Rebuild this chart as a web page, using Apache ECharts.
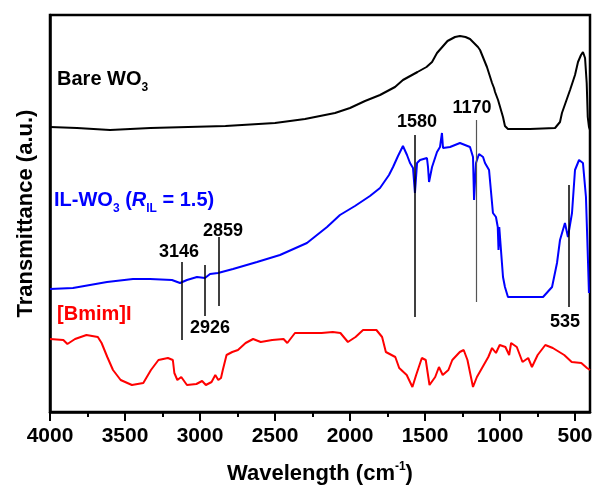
<!DOCTYPE html>
<html><head><meta charset="utf-8">
<script src="https://cdn.jsdelivr.net/npm/echarts@6/dist/echarts.min.js"></script>
<style>html,body{margin:0;padding:0;background:#fff}#c{width:595px;height:487px}</style>
</head><body><div id="c"></div>
<script>
// Wavenumber (cm-1) tick labels
const xTickValues = [4000, 3500, 3000, 2500, 2000, 1500, 1000, 500];
const xMinorTickValues = [3750, 3250, 2750, 2250, 1750, 1250, 750];

// Spectra: [wavenumber, transmittance (a.u.)]
const bareWO3 = [[4000,285],[3820,284],[3600,282],[3330,284],[2830,286],[2500,289],[2300,293],[2100,299],[2000,304],[1900,311],[1800,317],[1700,325],[1647,332],[1550,340],[1490,345],[1453,350],[1420,359],[1350,371],[1300,375],[1267,376],[1230,375],[1200,373],[1147,365],[1133,362],[1087,345],[1053,329],[1040,324],[1033,320],[1013,312],[980,295],[967,286],[947,283],[800,283],[633,284],[600,290],[587,299],[533,322],[500,337],[480,350],[460,357],[447,360],[444,359],[433,354],[422,329],[415,295],[407,285],[400,282]];
const ilWO3 = [[4000,123],[3847,124],[3620,130],[3447,133],[3333,133],[3187,132],[3133,129],[3087,132],[3020,135],[2967,134],[2933,138],[2880,139],[2780,143],[2620,150],[2467,157],[2287,169],[2153,185],[2067,197],[1967,206],[1867,216],[1800,224],[1740,237],[1713,245],[1680,256],[1647,266],[1620,257],[1600,249],[1580,244],[1567,219],[1553,249],[1533,252],[1487,254],[1480,245],[1473,230],[1453,245],[1420,260],[1400,265],[1387,279],[1380,264],[1333,265],[1267,269],[1200,265],[1180,255],[1173,212],[1160,249],[1140,258],[1113,255],[1100,249],[1073,242],[1047,199],[1027,195],[1015,185],[1010,162],[1005,185],[987,149],[980,135],[967,125],[947,115],[713,115],[653,125],[620,149],[600,172],[567,189],[547,175],[520,199],[500,242],[473,252],[447,249],[427,215],[413,149],[407,119]];
const bmimI = [[4000,73],[3911,72],[3884,68],[3833,73],[3757,77],[3681,75],[3656,69],[3618,55],[3580,42],[3529,32],[3454,27],[3378,29],[3327,42],[3277,52],[3214,54],[3181,52],[3171,39],[3151,32],[3125,35],[3087,27],[3024,28],[2986,31],[2961,27],[2923,30],[2898,37],[2878,32],[2860,34],[2848,42],[2823,57],[2785,60],[2747,62],[2696,69],[2646,73],[2595,70],[2519,72],[2443,73],[2418,69],[2367,79],[2266,79],[2190,79],[2115,80],[2064,79],[2014,70],[1963,75],[1913,82],[1824,82],[1786,75],[1761,60],[1698,55],[1672,44],[1622,37],[1584,25],[1559,37],[1521,54],[1495,52],[1470,27],[1432,35],[1407,45],[1382,37],[1344,42],[1318,52],[1268,60],[1242,62],[1217,52],[1180,25],[1154,35],[1116,45],[1078,55],[1053,64],[1027,59],[1002,67],[964,65],[939,57],[926,69],[888,65],[850,50],[812,54],[787,45],[749,57],[698,67],[648,64],[572,57],[522,50],[458,49],[420,44],[400,42]];

// Peak annotations
const peakNames = ['3146', '2926', '2859', '1580', '1170', '535'];
const peakLineX = [3120, 2967, 2873, 1567, 1160, 540];
const peakLineTop = [150, 147, 175, 277, 292, 227];
const peakLineBottom = [72, 96, 106, 95, 110, 105];
const peakLabelX = [3140, 2933, 2847, 1553, 1187, 567];
const peakLabelY = [160, 84, 181, 290, 304, 90];
const peakLineColor = ['#000', '#000', '#000', '#000', '#555', '#000'];

// Series name labels
const seriesNames = ['{m|Bare WO}{s|3}', '{m|IL-WO}{s|3}{m| (}{i|R}{s|IL}{m| = 1.5)}', '{m|[Bmim]I}'];
const seriesColors = ['#000000', '#0000ff', '#ff0000'];
const seriesLabelX = [3953, 3973, 3953];
const seriesLabelY = [333, 212, 98];

const FONT = 'Liberation Sans, Arial, Helvetica, sans-serif';
const chart = echarts.init(document.getElementById('c'), null, {renderer: 'canvas'});

function richFor(color) {
  const base = {fontWeight: 'bold', fontFamily: FONT, color: color, textBorderWidth: 0, opacity: 1};
  return {
    m: Object.assign({fontSize: 20, lineHeight: 30}, base),
    i: Object.assign({fontSize: 20, lineHeight: 30, fontStyle: 'italic'}, base),
    s: Object.assign({fontSize: 12, lineHeight: 11, verticalAlign: 'bottom'}, base)
  };
}

const option = {
  animation: false,
  backgroundColor: '#fff',
  grid: {left: 50, right: 5, top: 15, bottom: 75, outerBoundsMode: 'none', containLabel: false,
         show: true, borderColor: '#000', borderWidth: 2.5, backgroundColor: 'transparent'},
  xAxis: [{
    type: 'value', min: 400, max: 4000, inverse: true, position: 'bottom',
    axisLine: {show: true, lineStyle: {color: '#000', width: 2.5}},
    axisTick: {show: true, customValues: xTickValues, length: 9, lineStyle: {color: '#000', width: 2}},
    axisLabel: {customValues: xTickValues, formatter: v => String(v), fontSize: 21, fontWeight: 'bold', fontFamily: FONT, color: '#000', margin: 14},
    splitLine: {show: false},
    name: '{t|Wavelength (cm}{p|-1}{t|)}', nameLocation: 'middle', nameGap: 49,
    nameTextStyle: {rich: {
      t: {fontSize: 22, fontWeight: 'bold', fontFamily: FONT, color: '#000', lineHeight: 26},
      p: {fontSize: 12, fontWeight: 'bold', fontFamily: FONT, color: '#000', lineHeight: 12, verticalAlign: 'top'}
    }}
  }, {
    type: 'value', min: 400, max: 4000, inverse: true, position: 'bottom',
    axisLine: {show: false},
    axisTick: {show: true, customValues: xMinorTickValues, length: 5, lineStyle: {color: '#000', width: 2}},
    axisLabel: {show: false},
    splitLine: {show: false}
  }],
  yAxis: {
    type: 'value', min: 0, max: 397,
    axisLine: {show: true, lineStyle: {color: '#000', width: 2.5}},
    axisTick: {show: false}, axisLabel: {show: false}, splitLine: {show: false},
    name: 'Transmittance (a.u.)', nameLocation: 'middle', nameGap: 13,
    nameTextStyle: {fontSize: 22, fontWeight: 'bold', fontFamily: FONT, color: '#000'}
  },
  series: [
    {type: 'line', name: 'Bare WO3', data: bareWO3, showSymbol: false, lineStyle: {color: '#000', width: 2}, z: 3,
     markLine: {symbol: 'none', silent: true, label: {show: false},
       data: peakLineX.map((x, i) => [
         {coord: [x, peakLineTop[i]], lineStyle: {color: peakLineColor[i], width: i === 4 ? 1.2 : 1.5, type: 'solid'}},
         {coord: [x, peakLineBottom[i]]}
       ])}},
    {type: 'line', name: 'IL-WO3', data: ilWO3, showSymbol: false, lineStyle: {color: '#0000ff', width: 2}, z: 2},
    {type: 'line', name: '[Bmim]I', data: bmimI, showSymbol: false, lineStyle: {color: '#ff0000', width: 2}, z: 2},
    {type: 'scatter', symbolSize: 0, silent: true, z: 5, itemStyle: {opacity: 1},
     data: peakNames.map((n, i) => ({value: [peakLabelX[i], peakLabelY[i]], name: n})),
     label: {show: true, position: 'inside', formatter: p => p.name, fontSize: 18, fontWeight: 'bold', fontFamily: FONT,
             color: '#000', textBorderWidth: 0, opacity: 1}},
    {type: 'scatter', symbolSize: 0, silent: true, z: 5, itemStyle: {opacity: 1},
     data: seriesNames.map((n, i) => ({
       value: [seriesLabelX[i], seriesLabelY[i]], name: n,
       label: {show: true, position: 'right', distance: 0, formatter: n, opacity: 1, textBorderWidth: 0, rich: richFor(seriesColors[i])}
     }))}
  ]
};
chart.setOption(option);
</script></body></html>
